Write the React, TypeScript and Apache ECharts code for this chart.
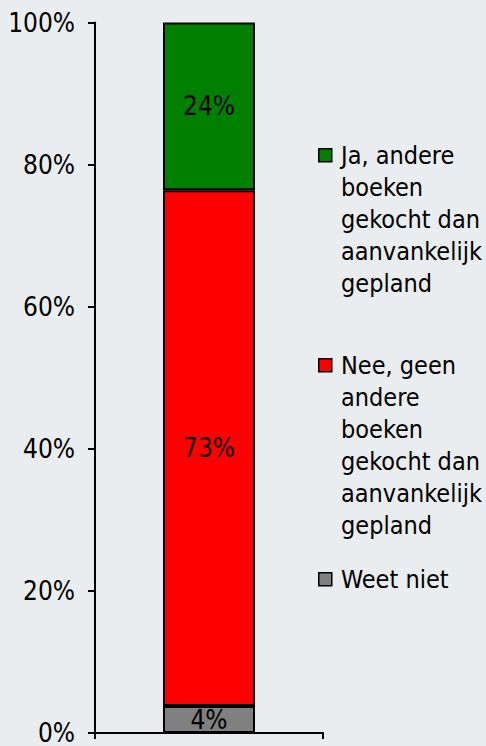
import React, { useEffect, useRef } from "react";
import * as echarts from "echarts";

const categories = ["Boeken"];
const seriesNames = [
  "Weet niet",
  "Nee, geen andere boeken gekocht dan aanvankelijk gepland",
  "Ja, andere boeken gekocht dan aanvankelijk gepland",
];
const legendLines = [
  ["Weet niet"],
  ["Nee, geen", "andere", "boeken", "gekocht dan", "aanvankelijk", "gepland"],
  ["Ja, andere", "boeken", "gekocht dan", "aanvankelijk", "gepland"],
];
const seriesValues = [3.8, 72.6, 23.6];
const seriesLabels = ["4%", "73%", "24%"];
const seriesColors = ["#808080", "#FF0000", "#008000"];
const yTicks = [0, 20, 40, 60, 80, 100];

const FONT = "'DejaVu Sans Condensed', 'DejaVu Sans', Tahoma, sans-serif";

export default function App() {
  const ref = useRef<HTMLDivElement>(null);
  useEffect(() => {
    document.body.style.margin = "0";
    const chart = echarts.init(ref.current!, null, { renderer: "svg" });
    const legendTops = [572, 358, 148];
    const graphic: any[] = [];
    seriesNames.forEach((_, i) => {
      const top = legendTops[i];
      graphic.push({
        type: "rect",
        left: 318,
        top: top,
        shape: { width: 13, height: 13 },
        style: { fill: seriesColors[i], stroke: "#000", lineWidth: 1.5 },
      });
      graphic.push({
        type: "text",
        x: 341,
        y: top + 7 - 16,
        style: {
          text: legendLines[i].join("\n"),
          font: `25px ${FONT}`,
          fill: "#000",
          lineHeight: 32,
          verticalAlign: "top",
          align: "left",
        },
      });
    });
    chart.setOption({
      animation: false,
      backgroundColor: "#E9EDEF",
      textStyle: { fontFamily: FONT },
      grid: { left: 95, right: 163, top: 22.5, bottom: 8, containLabel: false },
      xAxis: {
        type: "category",
        data: categories,
        axisLine: { lineStyle: { color: "#000", width: 2 } },
        axisTick: { show: true, length: 6, lineStyle: { color: "#000", width: 2 } },
        axisLabel: { show: false },
      },
      yAxis: {
        type: "value",
        min: yTicks[0],
        max: yTicks[yTicks.length - 1],
        interval: 20,
        axisLine: { show: true, lineStyle: { color: "#000", width: 2 } },
        axisTick: { show: true, inside: false, length: 7, lineStyle: { color: "#000", width: 2 } },
        splitLine: { show: false },
        axisLabel: {
          formatter: "{value}%",
          color: "#000",
          fontSize: 26,
          fontFamily: FONT,
          margin: 20,
        },
      },
      series: seriesNames.map((name, i) => ({
        name,
        type: "bar",
        stack: "total",
        barWidth: 92,
        data: [seriesValues[i]],
        itemStyle: { color: seriesColors[i], borderColor: "#000", borderWidth: 2 },
        label: {
          show: true,
          position: "inside",
          formatter: () => seriesLabels[i],
          color: "#000",
          fontSize: 26,
          fontFamily: FONT,
        },
      })),
      graphic,
    });
    return () => chart.dispose();
  }, []);
  return (
    <div
      ref={ref}
      style={{ position: "absolute", left: 0, top: 0, width: 486, height: 746 }}
    />
  );
}
